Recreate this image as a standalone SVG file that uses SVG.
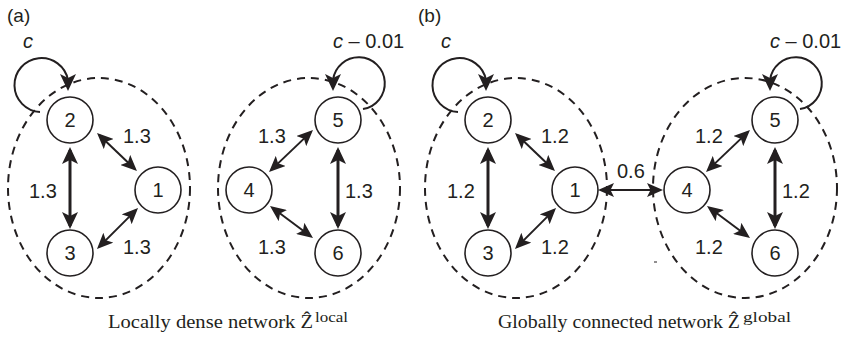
<svg xmlns="http://www.w3.org/2000/svg" width="842" height="338" viewBox="0 0 842 338">
<style>
.node circle{fill:#fff;stroke:#231f20;stroke-width:1.6}
.node text,.lbl{font-family:"Liberation Sans",Arial,sans-serif;font-size:20px;fill:#231f20}
.node text{text-anchor:middle}
.cl{fill:none;stroke:#231f20;stroke-width:2;stroke-dasharray:8 6}
.thick{stroke:#231f20;stroke-width:3;fill:none;marker-start:url(#big);marker-end:url(#big)}
.thin{stroke:#231f20;stroke-width:2;fill:none;marker-start:url(#sm);marker-end:url(#sm)}
.loop{stroke:#231f20;stroke-width:2;fill:none;marker-end:url(#big)}
.cap{font-family:"Liberation Serif","DejaVu Serif",serif;font-size:19px;fill:#231f20}
.sup{font-family:"Liberation Serif","DejaVu Serif",serif;font-size:14px;fill:#231f20}
</style>
<defs>
<marker id="big" viewBox="0 0 17 16" refX="14" refY="8" markerWidth="17" markerHeight="16" markerUnits="userSpaceOnUse" orient="auto-start-reverse"><path d="M0,0 L17,8 L0,16 L4,8 z" fill="#231f20"/></marker>
<marker id="sm" viewBox="0 0 16 14" refX="13" refY="7" markerWidth="16" markerHeight="14" markerUnits="userSpaceOnUse" orient="auto-start-reverse"><path d="M0,0 L16,7 L0,14 L3.5,7 z" fill="#231f20"/></marker>
</defs>

<!-- panel labels -->
<text class="lbl" x="7" y="22" style="font-size:19px">(a)</text>
<text class="lbl" x="418" y="22" style="font-size:19px">(b)</text>

<!-- clusters -->
<g id="clusters">
<ellipse class="cl" cx="99" cy="188" rx="91" ry="110"/>
<ellipse class="cl" cx="309" cy="188" rx="91" ry="110"/>
<ellipse class="cl" cx="516" cy="188" rx="91" ry="110"/>
<ellipse class="cl" cx="745" cy="188" rx="92" ry="110"/>
</g>

<g id="connectors">
<!-- (a) -->
<line class="thick" x1="70" y1="150" x2="70" y2="226"/>
<line class="thin" x1="99.2" y1="135.1" x2="134.8" y2="168.9"/>
<line class="thin" x1="99.1" y1="246.9" x2="135.9" y2="210.1"/>
<line class="thin" x1="310.8" y1="132.1" x2="271.2" y2="169.9"/>
<line class="thin" x1="272.4" y1="207.8" x2="310.6" y2="236.2"/>
<line class="thick" x1="338" y1="150" x2="338" y2="226"/>
<path class="loop" d="M40,112 A27,27 0 1 1 68,80 L68,88"/>
<path class="loop" d="M363,109 A26,26 0 1 0 333,80 L333,88"/>
<!-- (b) -->
<line class="thick" x1="488" y1="150" x2="488" y2="226"/>
<line class="thin" x1="517.2" y1="135.1" x2="552.8" y2="168.9"/>
<line class="thin" x1="517.1" y1="246.9" x2="553.9" y2="210.1"/>
<line class="thin" x1="747.8" y1="132.1" x2="708.2" y2="169.9"/>
<line class="thin" x1="709.4" y1="207.8" x2="747.6" y2="236.2"/>
<line class="thick" x1="775" y1="150" x2="775" y2="226"/>
<line class="thin" x1="601" y1="190" x2="660" y2="190"/>
<path class="loop" d="M458,112 A27,27 0 1 1 486,80 L486,88"/>
<path class="loop" d="M800,109 A26,26 0 1 0 770,80 L770,88"/>
</g>

<!-- nodes (a) -->
<g id="a1" class="node"><circle cx="158" cy="190" r="23"/><text x="158" y="197">1</text></g>
<g id="a2" class="node"><circle cx="70" cy="120" r="23"/><text x="70" y="127">2</text></g>
<g id="a3" class="node"><circle cx="70" cy="253" r="23"/><text x="70" y="260">3</text></g>
<g id="a4" class="node"><circle cx="249" cy="190" r="23"/><text x="249" y="197">4</text></g>
<g id="a5" class="node"><circle cx="338" cy="120" r="23"/><text x="338" y="127">5</text></g>
<g id="a6" class="node"><circle cx="338" cy="253" r="23"/><text x="338" y="260">6</text></g>
<!-- nodes (b) -->
<g id="b1" class="node"><circle cx="575" cy="190" r="23"/><text x="575" y="197">1</text></g>
<g id="b2" class="node"><circle cx="488" cy="120" r="23"/><text x="488" y="127">2</text></g>
<g id="b3" class="node"><circle cx="488" cy="253" r="23"/><text x="488" y="260">3</text></g>
<g id="b4" class="node"><circle cx="687" cy="190" r="23"/><text x="687" y="197">4</text></g>
<g id="b5" class="node"><circle cx="775" cy="120" r="23"/><text x="775" y="127">5</text></g>
<g id="b6" class="node"><circle cx="775" cy="253" r="23"/><text x="775" y="260">6</text></g>

<!-- edge labels -->
<g id="labels">
<text class="lbl" x="123" y="143">1.3</text>
<text class="lbl" x="29" y="198">1.3</text>
<text class="lbl" x="123" y="254">1.3</text>
<text class="lbl" x="258" y="143">1.3</text>
<text class="lbl" x="345" y="198">1.3</text>
<text class="lbl" x="258" y="254">1.3</text>
<text class="lbl" x="541" y="143">1.2</text>
<text class="lbl" x="447" y="198">1.2</text>
<text class="lbl" x="541" y="254">1.2</text>
<text class="lbl" x="695" y="143">1.2</text>
<text class="lbl" x="782" y="198">1.2</text>
<text class="lbl" x="695" y="254">1.2</text>
<text class="lbl" x="617" y="178">0.6</text>
<text class="lbl" x="23" y="48" font-style="italic">c</text>
<text class="lbl" x="441" y="48" font-style="italic">c</text>
<text class="lbl" x="333" y="48"><tspan font-style="italic">c</tspan> – 0.01</text>
<text class="lbl" x="770" y="48"><tspan font-style="italic">c</tspan> – 0.01</text>
</g>

<line x1="654" y1="262" x2="657" y2="262" stroke="#231f20" stroke-width="1"/>

<!-- captions -->
<text class="cap" x="108" y="328" textLength="205" lengthAdjust="spacingAndGlyphs">Locally dense network Ẑ</text>
<text class="sup" x="315" y="322" textLength="33" lengthAdjust="spacingAndGlyphs">local</text>
<text class="cap" x="498" y="328" textLength="242" lengthAdjust="spacingAndGlyphs">Globally connected network Ẑ</text>
<text class="sup" x="743" y="322" textLength="48" lengthAdjust="spacingAndGlyphs">global</text>
</svg>
